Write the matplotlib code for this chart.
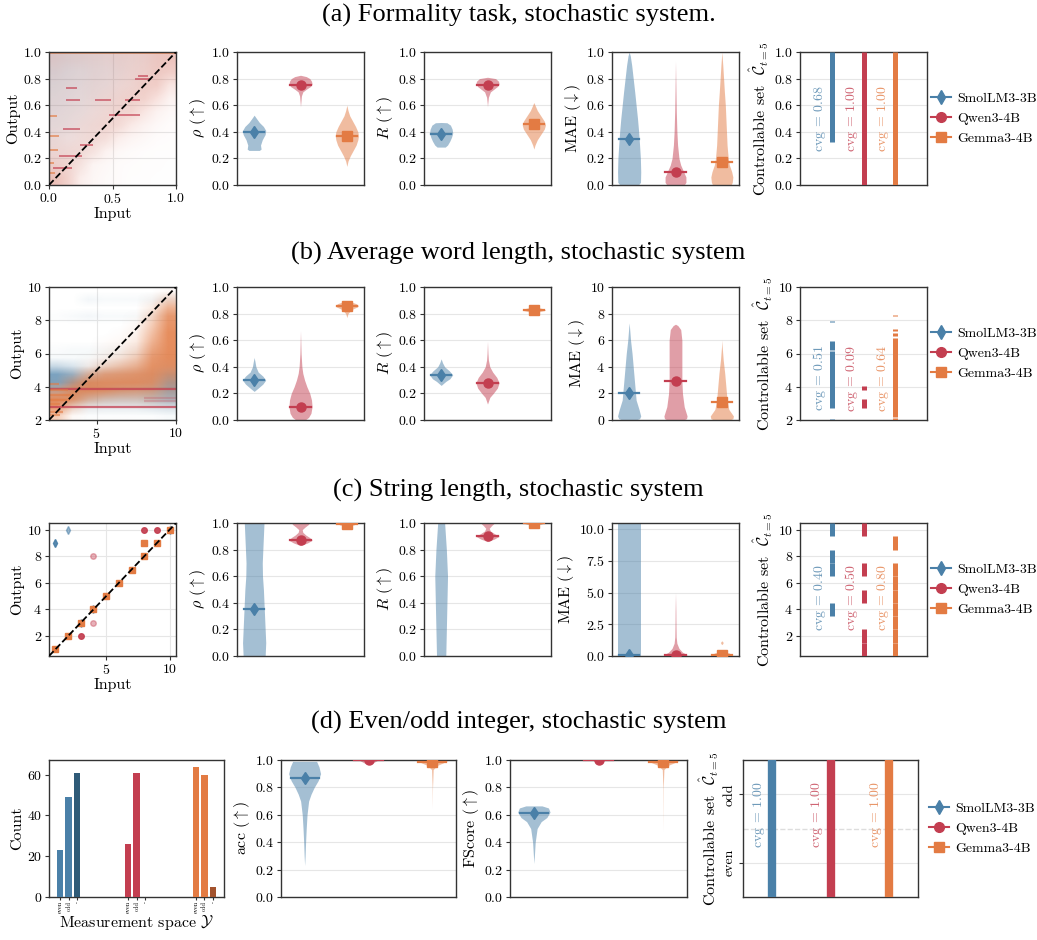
import numpy as np
import matplotlib.pyplot as plt
from matplotlib.lines import Line2D
from matplotlib.colors import to_rgb

plt.rcParams['font.family'] = ['cmr10', 'DejaVu Serif']
plt.rcParams['mathtext.fontset'] = 'cm'
plt.rcParams['axes.formatter.use_mathtext'] = True
plt.rcParams['axes.unicode_minus'] = False

# ---- models ----
models = ["SmolLM3-3B", "Qwen3-4B", "Gemma3-4B"]
colors = ["#4a80a8", "#c33e50", "#e37b43"]
markers = ["d", "o", "s"]

# ---- (a) formality: scatter density (rows top y=1 -> bottom y=0, cols x=0 -> 1) ----
a_blue_density = [
    [0.50, 0.50, 0.45, 0.40, 0.35, 0.30, 0.25, 0.20, 0.15, 0.10],
    [0.55, 0.50, 0.45, 0.40, 0.35, 0.30, 0.20, 0.15, 0.10, 0.05],
    [0.50, 0.45, 0.40, 0.35, 0.30, 0.20, 0.15, 0.10, 0.05, 0.00],
    [0.45, 0.40, 0.35, 0.30, 0.20, 0.15, 0.10, 0.05, 0.00, 0.00],
    [0.40, 0.35, 0.30, 0.20, 0.15, 0.10, 0.05, 0.00, 0.00, 0.00],
    [0.35, 0.30, 0.20, 0.15, 0.10, 0.05, 0.00, 0.00, 0.00, 0.00],
    [0.25, 0.20, 0.15, 0.10, 0.05, 0.00, 0.00, 0.00, 0.00, 0.00],
    [0.20, 0.15, 0.10, 0.05, 0.00, 0.00, 0.00, 0.00, 0.00, 0.00],
    [0.15, 0.10, 0.05, 0.00, 0.00, 0.00, 0.00, 0.00, 0.00, 0.00],
    [0.10, 0.05, 0.00, 0.00, 0.00, 0.00, 0.00, 0.00, 0.00, 0.00],
]
a_warm_density = [
    [0.45, 0.40, 0.40, 0.40, 0.40, 0.45, 0.45, 0.50, 0.60, 0.65],
    [0.35, 0.30, 0.30, 0.35, 0.35, 0.40, 0.45, 0.50, 0.60, 0.55],
    [0.30, 0.30, 0.30, 0.35, 0.35, 0.40, 0.45, 0.55, 0.55, 0.30],
    [0.30, 0.30, 0.30, 0.35, 0.40, 0.45, 0.50, 0.50, 0.35, 0.15],
    [0.30, 0.30, 0.30, 0.35, 0.40, 0.45, 0.45, 0.30, 0.15, 0.08],
    [0.30, 0.30, 0.35, 0.40, 0.45, 0.40, 0.25, 0.15, 0.08, 0.04],
    [0.35, 0.30, 0.35, 0.40, 0.35, 0.20, 0.12, 0.08, 0.04, 0.03],
    [0.40, 0.40, 0.40, 0.30, 0.15, 0.08, 0.05, 0.03, 0.02, 0.02],
    [0.50, 0.45, 0.30, 0.12, 0.08, 0.04, 0.03, 0.02, 0.02, 0.01],
    [0.70, 0.50, 0.20, 0.10, 0.06, 0.04, 0.02, 0.02, 0.01, 0.01],
]
# horizontal streaks (y, x start, x end, model index)
a_streak_y = [0.64, 0.64, 0.64, 0.80, 0.82, 0.53, 0.42, 0.73, 0.30, 0.215, 0.13,
              0.52, 0.37, 0.26, 0.165, 0.09, 0.995]
a_streak_x0 = [0.13, 0.36, 0.60, 0.68, 0.70, 0.47, 0.11, 0.13, 0.245, 0.08, 0.03,
               0.0, 0.0, 0.0, 0.0, 0.0, 0.0]
a_streak_x1 = [0.245, 0.49, 0.72, 0.80, 0.78, 0.72, 0.245, 0.22, 0.35, 0.26, 0.18,
               0.06, 0.08, 0.07, 0.04, 0.05, 1.0]
a_streak_model = [1, 1, 1, 1, 1, 1, 1, 1, 1, 1, 1, 2, 2, 2, 2, 2, 2]

# violin profiles: (y knots, relative half widths)
a_rho_prof = [
    ([0.26, 0.27, 0.30, 0.34, 0.38, 0.41, 0.44, 0.47, 0.50, 0.525],
     [0.45, 0.6, 0.55, 0.7, 0.95, 1.0, 0.8, 0.45, 0.2, 0.0]),
    ([0.59, 0.63, 0.67, 0.70, 0.72, 0.74, 0.76, 0.78, 0.80, 0.815, 0.825],
     [0.0, 0.04, 0.08, 0.2, 0.5, 0.85, 1.0, 0.95, 0.8, 0.5, 0.0]),
    ([0.14, 0.18, 0.22, 0.26, 0.30, 0.34, 0.37, 0.40, 0.44, 0.48, 0.52, 0.56, 0.60],
     [0.0, 0.1, 0.3, 0.55, 0.8, 0.95, 1.0, 0.95, 0.75, 0.5, 0.25, 0.1, 0.0]),
]
a_rho_med = [0.40, 0.75, 0.365]
a_r_prof = [
    ([0.285, 0.30, 0.33, 0.36, 0.39, 0.42, 0.45, 0.468, 0.47],
     [0.35, 0.55, 0.75, 0.9, 1.0, 0.95, 0.8, 0.5, 0.0]),
    ([0.59, 0.62, 0.66, 0.70, 0.72, 0.74, 0.76, 0.78, 0.80, 0.81],
     [0.0, 0.03, 0.08, 0.25, 0.55, 0.85, 1.0, 0.95, 0.7, 0.0]),
    ([0.27, 0.30, 0.34, 0.38, 0.42, 0.45, 0.48, 0.52, 0.56, 0.60, 0.62],
     [0.0, 0.1, 0.3, 0.6, 0.9, 1.0, 0.9, 0.6, 0.3, 0.1, 0.0]),
]
a_r_med = [0.385, 0.755, 0.46]
a_mae_prof = [
    ([0, 0.02, 0.1, 0.2, 0.3, 0.4, 0.5, 0.6, 0.7, 0.8, 0.9, 0.97, 1.0],
     [0.8, 0.98, 1.0, 0.97, 0.9, 0.82, 0.72, 0.6, 0.48, 0.35, 0.22, 0.1, 0.0]),
    ([0, 0.02, 0.06, 0.1, 0.15, 0.2, 0.3, 0.4, 0.55, 0.7, 0.93],
     [0.75, 0.9, 0.9, 0.7, 0.45, 0.3, 0.18, 0.12, 0.07, 0.04, 0.0]),
    ([0, 0.02, 0.06, 0.1, 0.15, 0.2, 0.3, 0.4, 0.5, 0.6, 0.7, 0.8, 0.9, 1.0],
     [0.8, 0.9, 0.95, 0.85, 0.65, 0.55, 0.45, 0.4, 0.35, 0.3, 0.22, 0.15, 0.08, 0.0]),
]
a_mae_med = [0.345, 0.10, 0.17]
a_cs = [[(0.32, 1.0)], [(0.0, 1.0)], [(0.0, 1.0)]]
a_cvg = [0.68, 1.00, 1.00]

# ---- (b) average word length (rows top y=10 -> bottom y=2 in 0.5 steps, cols x=2 -> 10) ----
b_blue_density = [
    [0.00, 0.00, 0.00, 0.00, 0.00, 0.00, 0.00, 0.00],
    [0.00, 0.00, 0.08, 0.05, 0.05, 0.05, 0.08, 0.10],
    [0.00, 0.00, 0.00, 0.00, 0.00, 0.00, 0.00, 0.02],
    [0.02, 0.05, 0.08, 0.05, 0.05, 0.05, 0.05, 0.08],
    [0.00, 0.00, 0.00, 0.00, 0.00, 0.00, 0.00, 0.02],
    [0.00, 0.00, 0.00, 0.00, 0.00, 0.00, 0.00, 0.02],
    [0.00, 0.00, 0.00, 0.00, 0.00, 0.00, 0.00, 0.03],
    [0.03, 0.05, 0.05, 0.05, 0.05, 0.05, 0.05, 0.08],
    [0.05, 0.05, 0.05, 0.05, 0.05, 0.05, 0.10, 0.15],
    [0.35, 0.25, 0.10, 0.10, 0.10, 0.10, 0.15, 0.35],
    [0.85, 0.70, 0.35, 0.30, 0.30, 0.30, 0.40, 0.70],
    [0.85, 0.80, 0.50, 0.40, 0.40, 0.40, 0.50, 0.80],
    [0.60, 0.50, 0.45, 0.45, 0.45, 0.45, 0.55, 0.75],
    [0.30, 0.35, 0.35, 0.35, 0.35, 0.35, 0.45, 0.60],
    [0.05, 0.10, 0.15, 0.15, 0.15, 0.15, 0.20, 0.25],
    [0.00, 0.00, 0.02, 0.02, 0.02, 0.02, 0.02, 0.05],
]
b_orange_density = [
    [0.00, 0.00, 0.00, 0.00, 0.00, 0.00, 0.00, 0.05],
    [0.00, 0.00, 0.00, 0.00, 0.00, 0.00, 0.05, 0.30],
    [0.00, 0.00, 0.00, 0.00, 0.00, 0.00, 0.15, 0.60],
    [0.00, 0.00, 0.00, 0.00, 0.00, 0.02, 0.30, 0.80],
    [0.00, 0.00, 0.00, 0.00, 0.00, 0.05, 0.40, 0.85],
    [0.00, 0.00, 0.00, 0.00, 0.02, 0.10, 0.50, 0.90],
    [0.00, 0.00, 0.00, 0.02, 0.05, 0.15, 0.60, 0.90],
    [0.00, 0.00, 0.00, 0.05, 0.10, 0.25, 0.70, 0.90],
    [0.00, 0.00, 0.02, 0.10, 0.20, 0.40, 0.80, 0.90],
    [0.00, 0.00, 0.10, 0.30, 0.45, 0.60, 0.85, 0.85],
    [0.00, 0.10, 0.50, 0.70, 0.75, 0.80, 0.85, 0.70],
    [0.05, 0.50, 0.85, 0.85, 0.85, 0.85, 0.80, 0.50],
    [0.50, 0.85, 0.85, 0.80, 0.70, 0.65, 0.60, 0.35],
    [0.90, 0.80, 0.50, 0.35, 0.30, 0.30, 0.30, 0.20],
    [0.80, 0.30, 0.05, 0.03, 0.03, 0.03, 0.03, 0.03],
    [0.40, 0.05, 0.00, 0.00, 0.00, 0.00, 0.00, 0.00],
]
b_streak_y = [3.87, 2.80, 3.30, 3.15, 4.15, 3.80, 3.50, 3.20, 2.95, 2.50, 2.30]
b_streak_x0 = [2.0, 2.0, 8.0, 8.0, 2.0, 2.0, 2.0, 2.0, 2.0, 2.0, 2.0]
b_streak_x1 = [10.0, 10.0, 10.0, 10.0, 2.6, 3.2, 3.4, 3.3, 2.7, 2.9, 2.7]
b_streak_model = [1, 1, 1, 1, 2, 2, 2, 2, 2, 2, 2]
b_streak_weight = [1.0, 1.0, 0.35, 0.35, 0.8, 0.8, 0.8, 0.8, 0.8, 0.8, 0.8]

b_rho_prof = [
    ([0.215, 0.24, 0.27, 0.30, 0.33, 0.36, 0.40, 0.44, 0.47],
     [0.0, 0.35, 0.75, 1.0, 0.75, 0.35, 0.15, 0.07, 0.0]),
    ([0, 0.02, 0.05, 0.1, 0.15, 0.2, 0.25, 0.3, 0.35, 0.4, 0.5, 0.6, 0.67],
     [0.4, 0.7, 0.9, 1.0, 0.95, 0.8, 0.55, 0.35, 0.2, 0.12, 0.05, 0.02, 0.0]),
    ([0.77, 0.80, 0.83, 0.85, 0.86, 0.875, 0.89, 0.895],
     [0.0, 0.1, 0.4, 0.9, 1.0, 0.8, 0.3, 0.0]),
]
b_rho_med = [0.30, 0.10, 0.86]
b_r_prof = [
    ([0.26, 0.29, 0.31, 0.34, 0.37, 0.40, 0.43, 0.46],
     [0.0, 0.4, 0.75, 1.0, 0.7, 0.3, 0.12, 0.0]),
    ([0.12, 0.17, 0.20, 0.24, 0.28, 0.32, 0.36, 0.40, 0.45, 0.50, 0.59],
     [0.0, 0.2, 0.5, 0.85, 1.0, 0.8, 0.45, 0.2, 0.08, 0.04, 0.0]),
    ([0.805, 0.815, 0.825, 0.835, 0.845, 0.85],
     [0.0, 0.5, 1.0, 0.9, 0.4, 0.0]),
]
b_r_med = [0.34, 0.275, 0.83]
b_mae_prof = [
    ([0, 0.1, 0.3, 0.8, 1.5, 2, 3, 4, 5, 6, 7, 7.3],
     [0.6, 0.9, 1.0, 0.85, 0.6, 0.55, 0.45, 0.35, 0.25, 0.12, 0.03, 0.0]),
    ([0, 0.1, 0.3, 1, 2, 3, 4, 5, 6, 6.8, 7.1, 7.2],
     [0.7, 0.95, 1.0, 0.75, 0.6, 0.55, 0.55, 0.55, 0.55, 0.45, 0.2, 0.0]),
    ([0, 0.1, 0.3, 0.8, 1.5, 2.5, 3.5, 4.5, 5.5, 6],
     [0.7, 0.95, 1.0, 0.6, 0.45, 0.35, 0.25, 0.12, 0.03, 0.0]),
]
b_mae_med = [2.05, 2.95, 1.35]
b_cs = [[(2.0, 2.08), (2.72, 6.15), (6.19, 6.77), (7.87, 7.93)],
        [(2.72, 3.26), (3.78, 4.02)],
        [(2.0, 2.1), (2.16, 6.93), (7.03, 7.23), (7.33, 7.47), (8.23, 8.31)]]
b_cvg = [0.51, 0.09, 0.64]

# ---- (c) string length ----
c_in = [[1, 2, 3, 4, 10], [1, 2, 3, 4, 5, 6, 7, 3, 8, 9, 4, 4], [1, 2, 3, 4, 5, 6, 7, 8, 9, 10, 8]]
c_out = [[9, 10, 3, 4, 10], [1, 2, 3, 4, 5, 6, 7, 2, 10, 10, 8, 3], [1, 2, 3, 4, 5, 6, 7, 8, 9, 10, 9]]
c_freq = [[0.9, 0.4, 0.6, 0.6, 0.6], [1, 1, 1, 1, 1, 1, 1, 0.9, 0.9, 0.9, 0.2, 0.2],
          [1, 1, 1, 1, 1, 1, 1, 1, 1, 1, 1]]

c_rho_prof = [
    ([0, 0.1, 0.2, 0.3, 0.4, 0.5, 0.6, 0.7, 0.8, 0.9, 1.0, 1.1],
     [0.95, 1.0, 0.95, 0.9, 0.85, 0.8, 0.72, 0.7, 0.75, 0.8, 0.85, 0.85]),
    ([0.83, 0.85, 0.87, 0.89, 0.91, 0.93, 0.95, 0.97, 0.99, 1.01],
     [0.0, 0.6, 1.0, 0.8, 0.45, 0.2, 0.15, 0.4, 0.7, 0.8]),
    ([0.975, 0.985, 1.0, 1.02], [0.0, 0.6, 0.9, 0.9]),
]
c_rho_med = [0.35, 0.875, 0.995]
c_r_prof = [
    ([0, 0.2, 0.4, 0.6, 0.8, 1.0, 1.05], [0.4, 0.45, 0.5, 0.55, 0.45, 0.3, 0.3]),
    ([0.86, 0.88, 0.90, 0.92, 0.94, 0.96, 0.98, 1.0, 1.02],
     [0.0, 0.6, 1.0, 0.6, 0.25, 0.15, 0.35, 0.6, 0.6]),
    ([0.985, 0.99, 1.0, 1.02], [0.0, 0.6, 0.9, 0.9]),
]
c_r_med = [None, 0.90, 0.998]
c_mae_prof = [
    ([0, 11], [1.0, 1.0]),
    ([0, 0.1, 0.3, 0.6, 1.0, 1.5, 2.5, 3.5, 5.0], [0.8, 1.0, 0.6, 0.3, 0.12, 0.06, 0.04, 0.03, 0.0]),
    ([0, 0.1, 0.25, 0.35, 0.9, 1.0, 1.1, 1.2], [0.9, 0.9, 0.6, 0.0, 0.0, 0.1, 0.1, 0.0]),
]
c_mae_med = [0.05, 0.08, 0.1]
c_cs_members = [[4, 7, 8, 10], [1, 2, 5, 7, 10], [1, 2, 3, 4, 5, 6, 7, 9]]
c_cvg = [0.40, 0.50, 0.80]

# ---- (d) even/odd ----
d_categories = ["even", "odd", "-"]
d_counts = [[23, 49, 61], [26, 61, 0], [64, 60, 5]]
d_bar_colors = [["#4a80a8", "#4a80a8", "#2f5b78"],
                ["#c33e50", "#c33e50", "#c33e50"],
                ["#e37b43", "#e37b43", "#a3532e"]]
d_acc_prof = [
    ([0.23, 0.3, 0.4, 0.5, 0.6, 0.7, 0.75, 0.8, 0.85, 0.9, 0.95, 0.99],
     [0.0, 0.03, 0.06, 0.1, 0.15, 0.25, 0.4, 0.6, 0.85, 1.0, 0.9, 0.75]),
    ([0.97, 0.98, 1.0, 1.02], [0.0, 0.3, 0.6, 0.6]),
    ([0.65, 0.8, 0.93, 0.96, 0.98, 1.0], [0.0, 0.01, 0.05, 0.3, 0.7, 1.0]),
]
d_acc_med = [0.87, 1.0, 0.985]
d_f_prof = [
    ([0.245, 0.3, 0.4, 0.5, 0.55, 0.58, 0.62, 0.65, 0.665],
     [0.0, 0.03, 0.08, 0.2, 0.45, 0.8, 1.0, 0.9, 0.5]),
    ([0.98, 1.0, 1.02], [0.0, 0.4, 0.4]),
    ([0.48, 0.8, 0.93, 0.96, 0.98, 1.0], [0.0, 0.01, 0.05, 0.3, 0.7, 1.0]),
]
d_f_med = [0.615, 1.0, 0.985]
d_cs_members = [["even", "odd"], ["even", "odd"], ["even", "odd"]]
d_cvg = [1.00, 1.00, 1.00]

# ------------------------------------------------------------------
W, H = 1037, 940
fig = plt.figure(figsize=(W / 100, H / 100), dpi=100)
LAB = 11.5
TICK = 10


def add_ax(l, t, w, h):
    return fig.add_axes([l / W, 1 - (t + h) / H, w / W, h / H])


def style(ax, grid_x=False):
    for s in ax.spines.values():
        s.set_color('#333333')
        s.set_linewidth(1.0)
    ax.tick_params(labelsize=TICK, color='#333333', length=3, pad=2)
    ax.yaxis.grid(True, color='#e6e6e6', lw=0.8)
    if grid_x:
        ax.xaxis.grid(True, color='#e6e6e6', lw=0.8)
    ax.set_axisbelow(True)


def cloud(ax, grid, color, extent, amax=0.9):
    g = np.flipud(np.array(grid, dtype=float))
    rgba = np.zeros(g.shape + (4,))
    rgba[..., :3] = to_rgb(color)
    rgba[..., 3] = np.clip(g * amax, 0, 1)
    ax.imshow(rgba, extent=extent, origin='lower', aspect='auto',
              interpolation='bilinear', zorder=1)


def violins(ax, profiles, medians, ylim, ylabel):
    for i, (ys, ws) in enumerate(profiles):
        hw = 0.25 * np.array(ws)
        ax.fill_betweenx(ys, i - hw, i + hw, color=colors[i], alpha=0.5, lw=0, zorder=2)
        m = medians[i]
        if m is not None:
            ax.plot([i - 0.22, i + 0.22], [m, m], color=colors[i], lw=1.6, zorder=3)
            ax.plot(i, m, marker=markers[i], color=colors[i], ms=6.5, zorder=4)
    ax.set_xlim(-0.37, 2.37)
    ax.set_ylim(*ylim)
    if ylim == (0, 1):
        ax.set_yticks(np.arange(0, 1.01, 0.2))
    ax.set_xticks([])
    ax.set_ylabel(ylabel, fontsize=LAB, labelpad=2)
    style(ax)


def cs_panel(ax, intervals, cvg, ylim, text_y, lw, xlim, toff):
    for i, ivs in enumerate(intervals):
        for lo, hi in ivs:
            ax.vlines(i, lo, hi, color=colors[i], lw=lw, capstyle='butt', zorder=3)
        ax.annotate(r'$\mathrm{cvg}$ = %.2f' % cvg[i], (i, text_y), xytext=(toff, 0),
                    textcoords='offset points', rotation=90, ha='center', va='center',
                    color=colors[i], alpha=0.8, fontsize=10)
    ax.set_xlim(*xlim)
    ax.set_ylim(*ylim)
    ax.set_xticks([])
    ax.set_ylabel(r'Controllable set  $\hat{\mathcal{C}}_{t=5}$', fontsize=LAB, labelpad=2)
    style(ax)


def legend(y_center, x_left):
    handles = [Line2D([], [], color=colors[i], marker=markers[i], lw=1.5, ms=7)
               for i in range(3)]
    fig.legend(handles, models, loc='center left', frameon=False, fontsize=10,
               bbox_to_anchor=(x_left / W, 1 - y_center / H), handlelength=1.4,
               handletextpad=0.45, labelspacing=0.5, borderpad=0.1, borderaxespad=0)


def streaks(ax, ys, x0s, x1s, mods, lw, weights=None):
    if weights is None:
        weights = [1.0] * len(ys)
    for y, x0, x1, m, wgt in zip(ys, x0s, x1s, mods, weights):
        ax.hlines(y, x0, x1, color=colors[m], lw=lw, alpha=0.75 * wgt, zorder=2)


def title(text, y):
    fig.text(0.5, 1 - y / H, text, ha='center', va='center',
             family='Liberation Serif', fontsize=19)


lefts = [49, 237, 424, 612, 800]
aw, ah = 127, 133

# ---------------- row (a) ----------------
top = 52
title('(a) Formality task, stochastic system.', 15)
ax = add_ax(lefts[0], top, aw, ah)
cloud(ax, a_blue_density, colors[0], (0, 1, 0, 1), 0.4)
cloud(ax, a_warm_density, "#d9634e", (0, 1, 0, 1), 0.55)
streaks(ax, a_streak_y, a_streak_x0, a_streak_x1, a_streak_model, 1.2)
ax.plot([0, 1], [0, 1], 'k--', lw=1.3, zorder=5)
ax.set_xlim(0, 1)
ax.set_ylim(0, 1)
ax.set_xticks([0, 0.5, 1.0])
ax.set_yticks(np.arange(0, 1.01, 0.2))
ax.set_xlabel('Input', fontsize=LAB, labelpad=1)
ax.set_ylabel('Output', fontsize=LAB, labelpad=2)
style(ax, grid_x=True)

violins(add_ax(lefts[1], top, aw, ah), a_rho_prof, a_rho_med, (0, 1), r'$\rho$ ($\uparrow$)')
violins(add_ax(lefts[2], top, aw, ah), a_r_prof, a_r_med, (0, 1), r'$R$ ($\uparrow$)')
violins(add_ax(lefts[3], top, aw, ah), a_mae_prof, a_mae_med, (0, 1), r'MAE ($\downarrow$)')
ax = add_ax(lefts[4], top, aw, ah)
cs_panel(ax, a_cs, a_cvg, (0, 1), 0.5, 3.6, (-1, 3), -8.6)
ax.set_yticks(np.arange(0, 1.01, 0.2))
legend(top + ah / 2, 930)

# ---------------- row (b) ----------------
top = 287
title('(b) Average word length, stochastic system', 253)
ax = add_ax(lefts[0], top, aw, ah)
cloud(ax, b_blue_density, colors[0], (2, 10, 2, 10), 0.85)
cloud(ax, b_orange_density, colors[2], (2, 10, 2, 10), 0.95)
streaks(ax, b_streak_y, b_streak_x0, b_streak_x1, b_streak_model, 1.6, b_streak_weight)
ax.plot([2, 10], [2, 10], 'k--', lw=1.3, zorder=5)
ax.set_xlim(2, 10)
ax.set_ylim(2, 10)
ax.set_xticks([5, 10])
ax.set_yticks([2, 4, 6, 8, 10])
ax.set_xlabel('Input', fontsize=LAB, labelpad=1)
ax.set_ylabel('Output', fontsize=LAB, labelpad=2)
style(ax, grid_x=True)

violins(add_ax(lefts[1], top, aw, ah), b_rho_prof, b_rho_med, (0, 1), r'$\rho$ ($\uparrow$)')
violins(add_ax(lefts[2], top, aw, ah), b_r_prof, b_r_med, (0, 1), r'$R$ ($\uparrow$)')
ax = add_ax(lefts[3], top, aw, ah)
violins(ax, b_mae_prof, b_mae_med, (0, 10), r'MAE ($\downarrow$)')
ax.set_yticks([0, 2, 4, 6, 8, 10])
ax = add_ax(lefts[4], top, aw, ah)
cs_panel(ax, b_cs, b_cvg, (2, 10), 4.5, 3.6, (-1, 3), -8.6)
ax.set_yticks([2, 4, 6, 8, 10])
legend(top + ah / 2, 930)

# ---------------- row (c) ----------------
top = 523
title('(c) String length, stochastic system', 490)
ax = add_ax(lefts[0], top, aw, ah)
for i in range(3):
    for x, y, f in zip(c_in[i], c_out[i], c_freq[i]):
        ax.plot(x, y, marker=markers[i], color=colors[i], ms=4, ls='none',
                alpha=0.25 + 0.75 * f, zorder=3 + i)
ax.plot([0.5, 10.5], [0.5, 10.5], 'k--', lw=1.3, zorder=6)
ax.set_xlim(0.5, 10.5)
ax.set_ylim(0.5, 10.5)
ax.set_xticks([5, 10])
ax.set_yticks([2, 4, 6, 8, 10])
ax.set_xlabel('Input', fontsize=LAB, labelpad=1)
ax.set_ylabel('Output', fontsize=LAB, labelpad=2)
style(ax, grid_x=True)

violins(add_ax(lefts[1], top, aw, ah), c_rho_prof, c_rho_med, (0, 1), r'$\rho$ ($\uparrow$)')
violins(add_ax(lefts[2], top, aw, ah), c_r_prof, c_r_med, (0, 1), r'$R$ ($\uparrow$)')
ax = add_ax(lefts[3], top, aw, ah)
violins(ax, c_mae_prof, c_mae_med, (0, 10.5), r'MAE ($\downarrow$)')
ax.set_yticks([0, 2.5, 5, 7.5, 10])
ax = add_ax(lefts[4], top, aw, ah)
c_intervals = [[(k - 0.5, k + 0.5) for k in mem] for mem in c_cs_members]
cs_panel(ax, c_intervals, c_cvg, (0.5, 10.5), 4.9, 3.6, (-1, 3), -8.6)
ax.set_yticks([2, 4, 6, 8, 10])
legend(top + ah / 2, 930)

# ---------------- row (d) ----------------
top = 760
dh = 137
title('(d) Even/odd integer, stochastic system', 722)
ax = add_ax(49, top, 175, dh)
pos, labs = [], []
for g in range(3):
    xs = [8 * g + k for k in range(3)]
    ax.bar(xs, d_counts[g], width=0.8, color=d_bar_colors[g], zorder=3)
    pos += xs
    labs += d_categories
ax.set_xlim(-1.3, 19.3)
ax.set_ylim(0, 67.2)
ax.set_yticks([0, 20, 40, 60])
ax.set_ylabel('Count', fontsize=LAB, labelpad=2)
style(ax)
ax.yaxis.grid(False)
ax.set_xticks(pos)
ax.set_xticklabels(labs, rotation=90, fontsize=4.5)
ax.tick_params(axis='x', length=2, pad=1, labelsize=4.5)
ax.set_xlabel(r'Measurement space $\mathcal{Y}$', fontsize=LAB, labelpad=0)

ax = add_ax(281, top, 175, dh)
violins(ax, d_acc_prof, d_acc_med, (0, 1), r'acc ($\uparrow$)')
ax = add_ax(510, top, 177, dh)
violins(ax, d_f_prof, d_f_med, (0, 1), r'FScore ($\uparrow$)')

ax = add_ax(743, top, 175, dh)
d_idx = {"even": 0, "odd": 1}
d_intervals = [[(d_idx[c] - 0.5, d_idx[c] + 0.5) for c in mem] for mem in d_cs_members]
cs_panel(ax, d_intervals, d_cvg, (-0.5, 1.5), 0.7, 6, (-0.5, 2.5), -9.5)
ax.axhline(0.5, color='#dddddd', ls='--', lw=1.0, zorder=1)
ax.set_yticks([0, 1])
ax.set_yticklabels(['even', 'odd'], rotation=90, va='center')
legend(top + dh / 2, 928)

fig.savefig('out.png', dpi=100)
